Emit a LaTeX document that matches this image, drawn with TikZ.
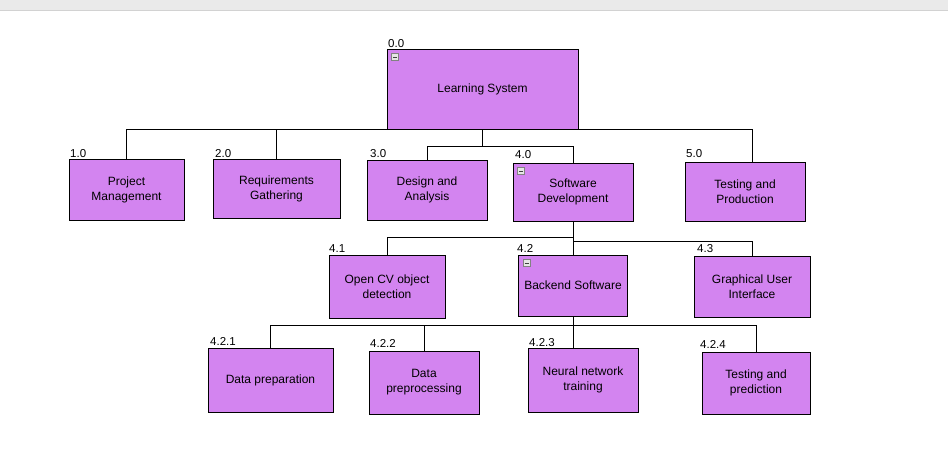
\documentclass[tikz,border=0pt]{standalone}
\usepackage{fontspec}
\setmainfont{Liberation Sans}
\usetikzlibrary{positioning, calc}

\definecolor{wbsfill}{RGB}{211,132,240}
\definecolor{barfill}{RGB}{234,234,234}
\definecolor{barline}{RGB}{210,210,210}
\definecolor{iconline}{RGB}{130,130,130}
\definecolor{iconfill}{RGB}{230,230,230}

\tikzset{
  wbs/.style={draw=black, fill=wbsfill, line width=0.9pt, align=center, inner sep=2pt,
    font=\fontsize{12}{15}\selectfont},
  wbsnum/.style={anchor=base west, inner sep=0pt, font=\fontsize{11.5}{13}\selectfont},
  link/.style={draw=black, line width=0.9pt},
}

% collapse button in the top left corner of a box
\newcommand{\minusbox}[1]{%
  \draw[draw=iconline, fill=iconfill, line width=0.6pt] ([shift={(5,5)}]#1.north west) rectangle ++(7,7);
  \draw[draw=black!75, line width=0.9pt] ([shift={(6.5,8.5)}]#1.north west) -- ++(4,0);
}

\begin{document}
\begin{tikzpicture}[x=1pt, y=-1pt]
  \fill[white] (0,0) rectangle (948,469);
  \useasboundingbox (0,0) rectangle (948,469);
  \fill[barfill] (0,0) rectangle (948,10);
  \draw[barline] (0,10.5) -- (948,10.5);

  % boxes
  \node[wbs, minimum width=191pt, minimum height=80pt] (root) at (482.5,89) {Learning System};

  \node[wbs, minimum width=115pt, minimum height=61pt] (pm)   at (126.5,189.5) {Project\\Management};
  \node[wbs, minimum width=127pt, minimum height=59pt] (req)  at (276.5,188.5) {Requirements\\Gathering};
  \node[wbs, minimum width=120pt, minimum height=60pt] (des)  at (427,190)     {Design and\\Analysis};
  \node[wbs, minimum width=120pt, minimum height=58pt] (sw)   at (573,192)     {Software\\Development};
  \node[wbs, minimum width=120pt, minimum height=59pt] (prod) at (745,191.5)   {Testing and\\Production};

  \node[wbs, minimum width=116pt, minimum height=63pt] (ocv)  at (387,286.5)   {Open CV object\\detection};
  \node[wbs, minimum width=109pt, minimum height=61pt] (be)   at (573,285.5)   {Backend Software};
  \node[wbs, minimum width=116pt, minimum height=61pt] (gui)  at (752,286.5)   {Graphical User\\Interface};

  \node[wbs, minimum width=125pt, minimum height=64pt] (prep) at (270.5,380)   {Data preparation};
  \node[wbs, minimum width=110pt, minimum height=63pt] (dpp)  at (424,382.5)   {Data\\preprocessing};
  \node[wbs, minimum width=110pt, minimum height=64pt] (nn)   at (583,380)     {Neural network\\training};
  \node[wbs, minimum width=108pt, minimum height=62pt] (tp)   at (756,383)     {Testing and\\prediction};

  \minusbox{root}
  \minusbox{sw}
  \minusbox{be}

  % numbers
  \node[wbsnum] (n00)  at (388,47)  {0.0};
  \node[wbsnum] (n10)  at (70,157)  {1.0};
  \node[wbsnum] (n20)  at (215,157) {2.0};
  \node[wbsnum] (n30)  at (370,157) {3.0};
  \node[wbsnum] (n40)  at (515,158) {4.0};
  \node[wbsnum] (n50)  at (686,157) {5.0};
  \node[wbsnum] (n41)  at (329,252) {4.1};
  \node[wbsnum] (n42)  at (517,252) {4.2};
  \node[wbsnum] (n43)  at (697,252) {4.3};
  \node[wbsnum] (n421) at (210,345) {4.2.1};
  \node[wbsnum] (n422) at (370,347) {4.2.2};
  \node[wbsnum] (n423) at (529,346) {4.2.3};
  \node[wbsnum] (n424) at (700,348) {4.2.4};

  % level 1
  \coordinate (prodin) at ([xshift=7pt]prod.north);
  \coordinate (bus1) at ([yshift=-17pt]root.south);
  \draw[link] (pm.north) |- (prodin |- root.south) -- (prodin);
  \draw[link] (req.north) -- (req.north |- root.south);
  \draw[link] (root.south) -- (bus1);
  \draw[link] (des.north) |- (bus1) -| (sw.north);

  % level 2
  \coordinate (bus2) at ([yshift=-16pt]sw.south);
  \coordinate (bus2r) at ([yshift=-20pt]sw.south);
  \draw[link] (sw.south) -- (be.north);
  \draw[link] (ocv.north) |- (bus2);
  \draw[link] (gui.north) |- (bus2r);

  % level 3
  \coordinate (bus3) at ([yshift=-9pt]be.south);
  \draw[link] (be.south) -- (be.south |- nn.north);
  \draw[link] (prep.north) |- (bus3) -| (tp.north);
  \draw[link] (dpp.north) -- (dpp.north |- bus3);
\end{tikzpicture}
\end{document}
